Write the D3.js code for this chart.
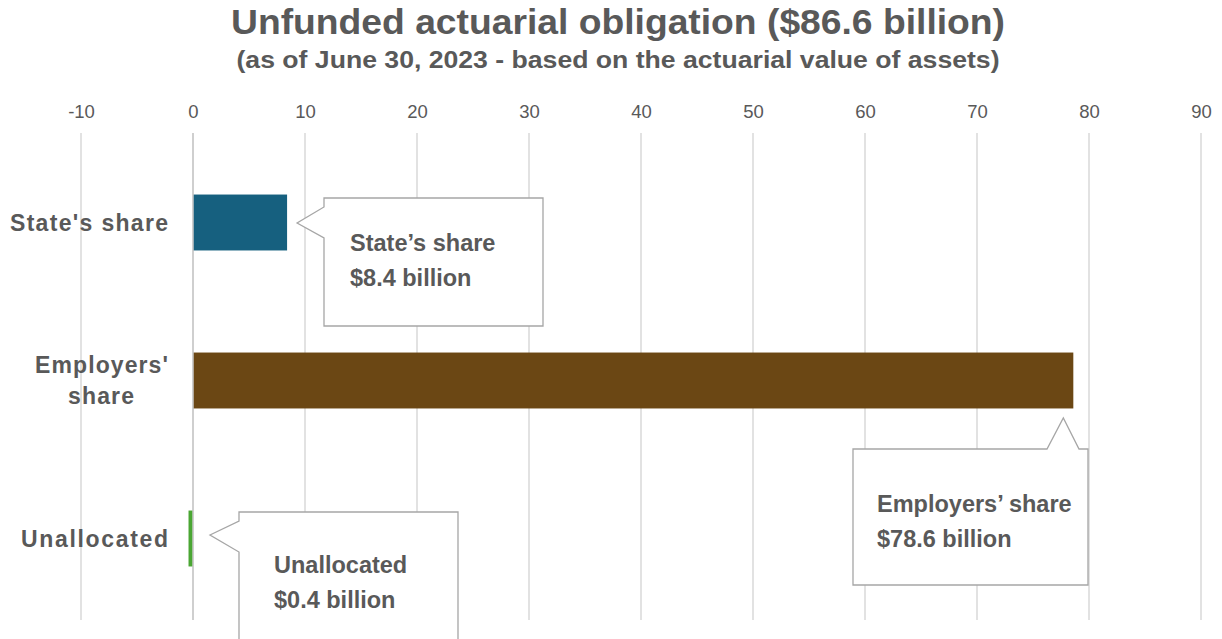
<!DOCTYPE html>
<html>
<head>
<meta charset="utf-8">
<script src="https://cdn.jsdelivr.net/npm/d3@7"></script>
<style>
  body { margin: 0; background: #fff; }
  text { font-family: "Liberation Sans", Arial, sans-serif; }
</style>
</head>
<body>
<svg width="1222" height="639"></svg>
<script>
// data
var categories = ["State's share", "Employers' share", "Unallocated"];
var values = [8.4, 78.6, -0.4];   // unallocated bar is drawn left of zero in the original
var barColors = ["#16607f", "#6b4714", "#4aa633"];
var calloutNames = ["State\u2019s share", "Employers\u2019 share", "Unallocated"];
var calloutAmounts = ["$8.4 billion", "$78.6 billion", "$0.4 billion"];
var tickValues = [-10, 0, 10, 20, 30, 40, 50, 60, 70, 80, 90];

var svg = d3.select("svg"),
    width = +svg.attr("width"),
    height = +svg.attr("height");

var grey = "#595959";

var x = d3.scaleLinear().domain([-10, 90]).range([81, 1201]);
var y = d3.scaleBand().domain(categories).range([143.5, 617.5])
    .paddingInner(0.646).paddingOuter(0.323);

// title (original uses a condensed face, so squeeze to its width)
svg.append("text")
    .attr("x", 618).attr("y", 34)
    .attr("text-anchor", "middle")
    .attr("font-size", 35).attr("font-weight", "bold")
    .attr("fill", grey)
    .attr("textLength", 774).attr("lengthAdjust", "spacingAndGlyphs")
    .text("Unfunded actuarial obligation ($86.6 billion)");

svg.append("text")
    .attr("x", 618).attr("y", 68)
    .attr("text-anchor", "middle")
    .attr("font-size", 23).attr("font-weight", "bold")
    .attr("fill", grey)
    .attr("textLength", 763).attr("lengthAdjust", "spacingAndGlyphs")
    .text("(as of June 30, 2023 - based on the actuarial value of assets)");

// axis on top, gridlines down
var axis = d3.axisTop(x).tickValues(tickValues).tickSize(0).tickPadding(0)
    .tickFormat(d => String(d));
var gAxis = svg.append("g")
    .attr("transform", "translate(0,118)")
    .call(axis);
gAxis.select(".domain").remove();
gAxis.selectAll("text")
    .attr("font-family", "Liberation Sans, Arial, sans-serif")
    .attr("font-size", 18.5)
    .attr("fill", grey)
    .attr("dy", 0);

svg.append("g").selectAll("line")
    .data(tickValues)
    .enter().append("line")
    .attr("x1", d => x(d)).attr("x2", d => x(d))
    .attr("y1", 133).attr("y2", 620)
    .attr("stroke", "#d9d9d9").attr("stroke-width", 1.5);

// bars
svg.append("g").selectAll("rect")
    .data(values)
    .enter().append("rect")
    .attr("x", d => x(Math.min(0, d)))
    .attr("y", (d, i) => y(categories[i]))
    .attr("width", d => Math.abs(x(d) - x(0)))
    .attr("height", y.bandwidth())
    .attr("fill", (d, i) => barColors[i]);

// zero line over bars
svg.append("line")
    .attr("x1", x(0)).attr("x2", x(0))
    .attr("y1", 133).attr("y2", 620)
    .attr("stroke", "#c8c8c8").attr("stroke-width", 1.5);

// category labels
var catG = svg.append("g")
    .attr("font-size", 23).attr("font-weight", "bold").attr("fill", grey);
catG.append("text")
    .attr("x", 168).attr("y", y(categories[0]) + y.bandwidth() / 2 + 8)
    .attr("text-anchor", "end")
    .attr("textLength", 158).attr("lengthAdjust", "spacing")
    .text("State's share");
catG.append("text")
    .attr("x", 168).attr("y", y(categories[1]) + y.bandwidth() / 2 - 8)
    .attr("text-anchor", "end")
    .attr("textLength", 133).attr("lengthAdjust", "spacing")
    .text("Employers'");
catG.append("text")
    .attr("x", 101).attr("y", y(categories[1]) + y.bandwidth() / 2 + 23)
    .attr("text-anchor", "middle")
    .attr("textLength", 66).attr("lengthAdjust", "spacing")
    .text("share");
catG.append("text")
    .attr("x", 168).attr("y", y(categories[2]) + y.bandwidth() / 2 + 8)
    .attr("text-anchor", "end")
    .attr("textLength", 147).attr("lengthAdjust", "spacing")
    .text("Unallocated");

// callouts: box + pointer
var callouts = [
  { side: "left", bx: 324, by: 198, bw: 219, bh: 128, p1: 9, p2: 40, tipX: x(8.4) + 10, tipY: 223, tx: 350, ty: 251 },
  { side: "top", bx: 853, by: 449, bw: 235, bh: 136, p1: 194, p2: 226, tipX: x(78.6) - 10, tipY: 418, tx: 877, ty: 512 },
  { side: "left", bx: 239, by: 512, bw: 219, bh: 140, p1: 9, p2: 40, tipX: x(0) + 17, tipY: 535, tx: 274, ty: 573 }
];

callouts.forEach(function(c, i) {
  var p = d3.path();
  if (c.side === "left") {
    p.moveTo(c.bx, c.by);
    p.lineTo(c.bx + c.bw, c.by);
    p.lineTo(c.bx + c.bw, c.by + c.bh);
    p.lineTo(c.bx, c.by + c.bh);
    p.lineTo(c.bx, c.by + c.p2);
    p.lineTo(c.tipX, c.tipY);
    p.lineTo(c.bx, c.by + c.p1);
    p.closePath();
  } else {
    p.moveTo(c.bx, c.by);
    p.lineTo(c.bx + c.p1, c.by);
    p.lineTo(c.tipX, c.tipY);
    p.lineTo(c.bx + c.p2, c.by);
    p.lineTo(c.bx + c.bw, c.by);
    p.lineTo(c.bx + c.bw, c.by + c.bh);
    p.lineTo(c.bx, c.by + c.bh);
    p.closePath();
  }
  svg.append("path")
    .attr("d", p.toString())
    .attr("fill", "#fff")
    .attr("stroke", "#a6a6a6").attr("stroke-width", 1.3);

  var t = svg.append("text")
    .attr("font-size", 23.5).attr("font-weight", "bold").attr("fill", grey);
  t.append("tspan").attr("x", c.tx).attr("y", c.ty).text(calloutNames[i]);
  t.append("tspan").attr("x", c.tx).attr("y", c.ty + 35).text(calloutAmounts[i]);
});
</script>
</body>
</html>
